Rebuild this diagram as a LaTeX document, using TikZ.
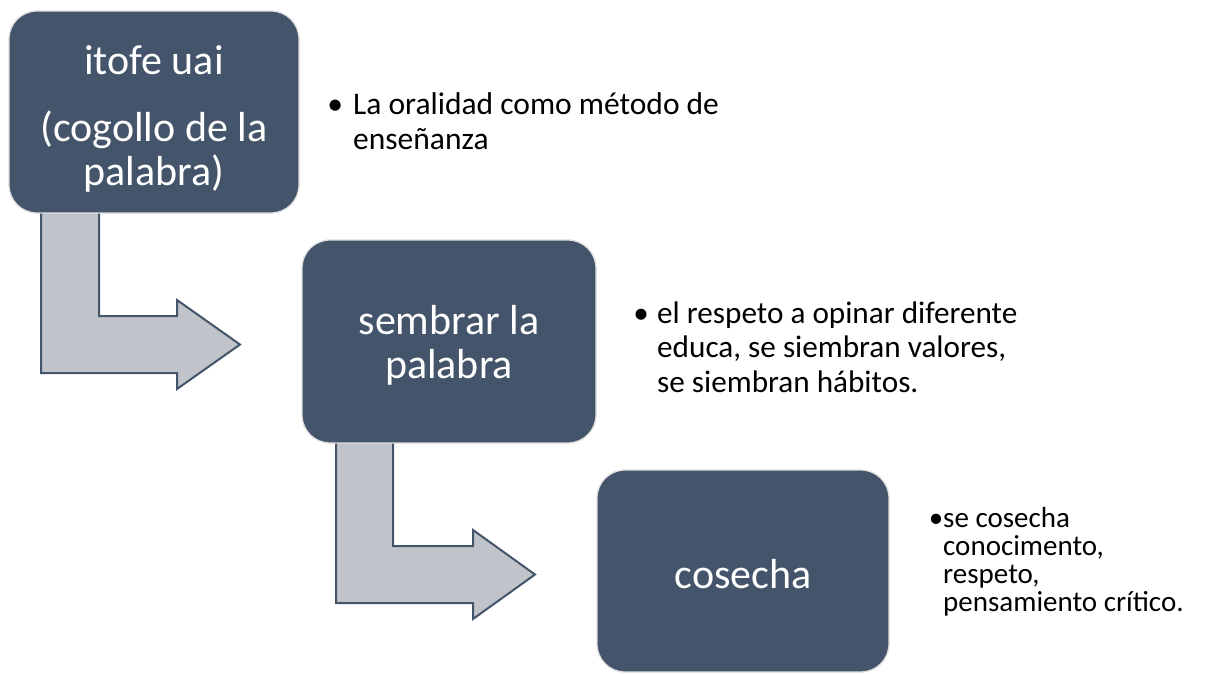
\documentclass[tikz,border=0pt]{standalone}
\usepackage{fontspec}
\setmainfont{Carlito}
\definecolor{boxfill}{HTML}{44546A}
\definecolor{arrowfill}{HTML}{C0C4CA}
\definecolor{boxedge}{HTML}{DEDEDE}
\begin{document}
\begin{tikzpicture}[x=1pt,y=-1pt,
  stagebox/.style={rectangle, rounded corners=28pt, fill=boxfill, draw=boxedge,
    line width=1.3pt, inner sep=0pt},
  stagetext/.style={text=white, align=center, inner sep=0pt,
    font=\fontsize{42}{44}\selectfont},
  arrowbody/.style={fill=arrowfill},
  arrowline/.style={draw=boxfill, line width=2pt, line join=miter},
  note/.style={anchor=base west, inner sep=0pt}]
\useasboundingbox (0,0) rectangle (1205,673);

% boxes
\node[stagebox, minimum width=290pt, minimum height=202pt] (b1) at (154,112) {};
\node[stagebox, minimum width=294pt, minimum height=203pt] (b2) at (449,341.5) {};
\node[stagebox, minimum width=292pt, minimum height=202pt] (b3) at (743,571) {};
\node[stagetext] (t1) at ([yshift=-7pt]b1.center) {itofe uai\\[23pt](cogollo de la\\palabra)};
\node[stagetext] (t2) at ([yshift=-4pt]b2.center) {sembrar la\\palabra};
\node[stagetext] (t3) at ([yshift=-3pt]b3.center) {cosecha};

% bent arrow 1
\fill[arrowbody] (41,0 |- b1.south) -- (41,373) -- (177,373) -- (177,389)
  -- (240,344.5) -- (177,300) -- (177,316) -- (99,316) -- (99,0 |- b1.south) -- cycle;
\draw[arrowline] (41,0 |- b1.south) -- (41,373) -- (177,373) -- (177,389)
  -- (240,344.5) -- (177,300) -- (177,316) -- (99,316) -- (99,0 |- b1.south);

% bent arrow 2
\fill[arrowbody] (336,0 |- b2.south) -- (336,603) -- (473,603) -- (473,619)
  -- (535,574.5) -- (473,530) -- (473,546) -- (393,546) -- (393,0 |- b2.south) -- cycle;
\draw[arrowline] (336,0 |- b2.south) -- (336,603) -- (473,603) -- (473,619)
  -- (535,574.5) -- (473,530) -- (473,546) -- (393,546) -- (393,0 |- b2.south);

% notes
\node[note, font=\fontsize{31.5}{35.5}\selectfont] (n1) at (335,114)
  {\begin{tabular}[t]{@{}l@{}l@{}}\makebox[0pt]{•}\hspace{18pt} & La oralidad como método de\\ & enseñanza\end{tabular}};
\node[note, font=\fontsize{31.2}{34.5}\selectfont] (n2) at (641,323)
  {\begin{tabular}[t]{@{}l@{}l@{}}\makebox[0pt]{•}\hspace{16pt} & el respeto a opinar diferente\\ & educa, se siembran valores,\\ & se siembran hábitos.\end{tabular}};
\node[note, font=\fontsize{29}{28}\selectfont] (n3) at (936,527)
  {\begin{tabular}[t]{@{}l@{}l@{}}\makebox[0pt]{•}\hspace{7pt} & se cosecha\\ & conocimento,\\ & respeto,\\ & pensamiento crítico.\end{tabular}};
\end{tikzpicture}
\end{document}
